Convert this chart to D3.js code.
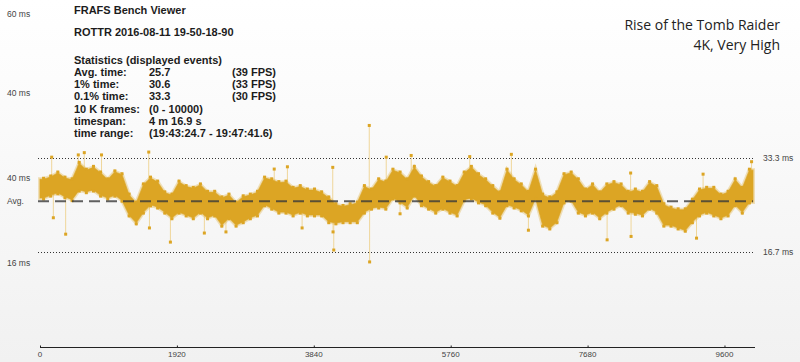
<!DOCTYPE html>
<html>
<head>
<meta charset="utf-8">
<script src="https://cdn.jsdelivr.net/npm/d3@7/dist/d3.min.js"></script>
<style>
	html, body { margin: 0; padding: 0; }
	svg { display: block; }
</style>
</head>
<body>
<svg id="chart"></svg>
<script>
const WIDTH = 800;
const HEIGHT = 362;
const GOLD = '#dca524';

// frame-time band per 100 frames: [low ms, high ms]
const binLow = [
	26.3, 26.8, 27.2, 26.5, 26.0, 27.7, 27.4, 27.7, 26.8, 26.3,
	26.8, 25.9, 23.3, 21.9, 23.8, 25.1, 24.7, 23.8, 22.8, 23.8,
	23.3, 22.8, 23.8, 22.8, 23.3, 21.5, 22.8, 21.5, 22.1, 22.8,
	23.3, 25.1, 24.5, 23.8, 23.8, 23.3, 23.8, 23.3, 23.3, 23.3,
	22.1, 21.9, 22.1, 22.1, 22.1, 23.8, 24.5, 24.7, 24.5, 26.3,
	25.6, 24.7, 26.8, 25.1, 24.5, 23.8, 24.5, 23.8, 23.3, 26.0,
	26.3, 25.6, 25.1, 23.8, 22.9, 25.1, 24.7, 24.2, 23.3, 26.3,
	21.5, 21.0, 22.1, 25.6, 25.9, 23.8, 23.3, 23.8, 22.8, 23.8,
	24.5, 25.1, 23.8, 23.6, 23.3, 24.5, 23.8, 21.5, 21.5, 21.0,
	20.6, 22.1, 23.3, 23.8, 23.3, 22.8, 23.3, 25.1, 23.8, 25.6
];
const binHigh = [
	29.6, 30.0, 30.7, 29.8, 29.5, 32.4, 31.2, 31.7, 30.7, 29.5,
	30.9, 30.4, 26.8, 25.4, 28.6, 29.8, 29.1, 27.2, 26.8, 29.1,
	28.3, 28.0, 28.6, 27.3, 27.3, 26.3, 26.8, 25.4, 26.5, 26.8,
	27.3, 29.8, 29.5, 29.0, 29.1, 28.0, 28.3, 27.7, 27.7, 27.2,
	26.3, 25.1, 24.8, 25.1, 25.4, 28.3, 27.7, 29.5, 29.1, 31.2,
	30.7, 29.5, 31.7, 30.0, 29.0, 28.3, 29.8, 29.1, 28.3, 30.7,
	31.7, 30.4, 29.5, 28.3, 27.2, 31.2, 29.5, 28.6, 27.3, 31.2,
	26.8, 26.3, 27.2, 30.4, 30.7, 29.5, 27.7, 28.6, 27.2, 28.6,
	29.0, 28.6, 27.3, 27.7, 27.3, 29.0, 28.3, 25.1, 24.5, 24.2,
	24.2, 25.9, 27.7, 28.0, 28.0, 26.8, 27.3, 29.5, 28.0, 31.2
];
const BIN_FRAMES = 100;

// single-frame outliers: frame index, ms
const spikeFrames = [164, 187, 360, 537, 621, 863, 1525, 1535, 1829, 2305, 2608, 3285, 3470, 3676,
	4106, 4110, 4120, 4618, 4623, 4856, 5050, 5206, 6027, 6611, 6850, 7954, 8284, 8290, 9208, 9300, 9980];
const spikeMs = [33.5, 22.8, 19.9, 33.9, 34.3, 33.9, 34.4, 21.0, 18.5, 20.1, 20.3, 31.4, 31.8, 21.0,
	31.7, 20.3, 17.1, 39.1, 15.0, 33.5, 23.5, 33.8, 33.6, 34.0, 20.6, 18.9, 30.7, 19.5, 19.2, 30.5, 32.7];

const avgTime = 25.7;
const refLines = [33.3, 16.7];
const xTicks = [0, 1920, 3840, 5760, 7680, 9600];
const staleUpper = ['60 ms', '40 ms'];
const staleLower = ['40 ms', '16 ms'];

const statRows = [
	['Avg. time:', '25.7', '(39 FPS)'],
	['1% time:', '30.6', '(33 FPS)'],
	['0.1% time:', '33.3', '(30 FPS)'],
	['10 K frames:', '(0 - 10000)', ''],
	['timespan:', '4 m 16.9 s', ''],
	['time range:', '(19:43:24.7 - 19:47:41.6)', '']
];
const titleLines = ['Rise of the Tomb Raider', '4K, Very High'];

const svg = d3.select('#chart').attr('width', WIDTH).attr('height', HEIGHT);

const defs = svg.append('defs');
const bg = defs.append('linearGradient').attr('id', 'bg').attr('x1', 0).attr('y1', 0).attr('x2', 0).attr('y2', 1);
bg.append('stop').attr('offset', '0%').attr('stop-color', '#ffffff');
bg.append('stop').attr('offset', '100%').attr('stop-color', '#f1f1f1');
svg.append('rect').attr('width', WIDTH).attr('height', HEIGHT).attr('fill', 'url(#bg)');

const x = d3.scaleLinear().domain([0, 10000]).range([40, 753]);
const y = d3.scaleLinear().domain([16.7, 33.3]).range([252.3, 158.3]);

const bins = binLow.map((lo, i) => ({ frame: (i + 0.5) * BIN_FRAMES, lo, hi: binHigh[i] }));
const spikes = spikeFrames.map((f, i) => ({ frame: f, ms: spikeMs[i], bin: bins[Math.min(99, Math.floor(f / BIN_FRAMES))] }));

// reference lines
svg.append('g')
	.selectAll('line')
	.data(refLines)
	.enter()
	.append('line')
	.attr('x1', x(0) - 2)
	.attr('x2', x(10000))
	.attr('y1', (d) => Math.round(y(d)) + 0.5)
	.attr('y2', (d) => Math.round(y(d)) + 0.5)
	.attr('stroke', '#333')
	.attr('stroke-width', 1)
	.attr('stroke-dasharray', '1,2');

// spikes: thin connector + marker
const spikeG = svg.append('g');
spikeG.selectAll('line')
	.data(spikes)
	.enter()
	.append('line')
	.attr('x1', (d) => x(d.frame))
	.attr('x2', (d) => x(d.frame))
	.attr('y1', (d) => y((d.bin.lo + d.bin.hi) / 2))
	.attr('y2', (d) => y(d.ms))
	.attr('stroke', '#efd69a')
	.attr('stroke-width', 1);

// dense band
const band = d3.area()
	.x((d) => x(d.frame))
	.y0((d) => y(d.lo))
	.y1((d) => y(d.hi))
	.curve(d3.curveLinear);

const bandData = [{ frame: 0, lo: bins[0].lo, hi: bins[0].hi }, ...bins, { frame: 10000, lo: bins[99].lo, hi: bins[99].hi }];
// soft halo for the scattered edge points
svg.append('path')
	.datum(bandData)
	.attr('d', band)
	.attr('fill', 'none')
	.attr('stroke', GOLD)
	.attr('stroke-opacity', 0.3)
	.attr('stroke-width', 4);
svg.append('path')
	.datum(bandData)
	.attr('d', band)
	.attr('fill', GOLD)
	.attr('stroke', GOLD)
	.attr('stroke-opacity', 0.7)
	.attr('stroke-width', 1.2);

// scatter texture on band edges
const edgeG = svg.append('g').attr('fill', GOLD);
edgeG.selectAll('rect.hi')
	.data(bins)
	.enter()
	.append('rect')
	.attr('x', (d) => x(d.frame) - 1.5)
	.attr('y', (d) => y(d.hi) - 2.5)
	.attr('width', 3)
	.attr('height', 3);
edgeG.selectAll('rect.lo')
	.data(bins)
	.enter()
	.append('rect')
	.attr('x', (d) => x(d.frame) - 1.5)
	.attr('y', (d) => y(d.lo) - 0.5)
	.attr('width', 3)
	.attr('height', 3);

spikeG.selectAll('rect')
	.data(spikes)
	.enter()
	.append('rect')
	.attr('x', (d) => x(d.frame) - 1.5)
	.attr('y', (d) => y(d.ms) - 1.5)
	.attr('width', 3)
	.attr('height', 3)
	.attr('fill', GOLD);

// average
svg.append('line')
	.attr('x1', x(0) - 2)
	.attr('x2', x(10000))
	.attr('y1', y(avgTime))
	.attr('y2', y(avgTime))
	.attr('stroke', '#3a3a3a')
	.attr('stroke-opacity', 0.8)
	.attr('stroke-width', 2)
	.attr('stroke-dasharray', '11,6');

// x axis
const xAxis = svg.append('g')
	.attr('transform', 'translate(0,347.5)');
xAxis.append('line')
	.attr('x1', x(0))
	.attr('x2', 755)
	.attr('stroke', '#222');
xAxis.selectAll('line.tick')
	.data(xTicks)
	.enter()
	.append('line')
	.attr('x1', (d) => x(d) + 0.5)
	.attr('x2', (d) => x(d) + 0.5)
	.attr('y1', -2)
	.attr('y2', 0)
	.attr('stroke', '#222');
xAxis.selectAll('text')
	.data(xTicks)
	.enter()
	.append('text')
	.attr('x', (d) => x(d))
	.attr('y', 9)
	.attr('text-anchor', 'middle')
	.attr('font-family', 'Liberation Sans, Arial, sans-serif')
	.attr('font-size', '8px')
	.attr('fill', '#444')
	.text((d) => d);

// side labels
const labelFont = 'Liberation Sans, Arial, sans-serif';
const upperScale = d3.scaleLinear().domain([60, 40]).range([14, 93]);
const lowerScale = d3.scaleLinear().domain([40, 16]).range([178, 263]);
const sideLabels = [
	...staleUpper.map((t) => ({ text: t, y: upperScale(parseFloat(t)) })),
	...staleLower.map((t) => ({ text: t, y: lowerScale(parseFloat(t)) })),
	{ text: 'Avg.', y: y(avgTime) }
];
svg.append('g')
	.selectAll('text')
	.data(sideLabels)
	.enter()
	.append('text')
	.attr('x', 7)
	.attr('y', (d) => d.y)
	.attr('dy', '0.35em')
	.attr('font-family', labelFont)
	.attr('font-size', '8.5px')
	.attr('fill', '#444')
	.text((d) => d.text);

svg.append('g')
	.selectAll('text')
	.data(refLines)
	.enter()
	.append('text')
	.attr('x', 763)
	.attr('y', (d) => y(d))
	.attr('dy', '0.35em')
	.attr('font-family', labelFont)
	.attr('font-size', '8.5px')
	.attr('fill', '#444')
	.text((d) => d + ' ms');

// header text
const header = svg.append('g')
	.attr('font-family', 'Liberation Sans, Arial, sans-serif')
	.attr('font-weight', 'bold')
	.attr('font-size', '11px')
	.attr('fill', '#1c1c1c');
header.append('text').attr('x', 74).attr('y', 14).text('FRAFS Bench Viewer');
header.append('text').attr('x', 74).attr('y', 36).text('ROTTR 2016-08-11 19-50-18-90');
header.append('text').attr('x', 74).attr('y', 64).text('Statistics (displayed events)');
const rows = header.selectAll('g.row')
	.data(statRows)
	.enter()
	.append('g')
	.attr('transform', (d, i) => `translate(0,${76 + i * 12.2})`);
[74, 149, 232].forEach((cx, c) => {
	rows.append('text').attr('x', cx).text((d) => d[c]);
});

svg.append('g')
	.selectAll('text')
	.data(titleLines)
	.enter()
	.append('text')
	.attr('x', 780)
	.attr('y', (d, i) => 30 + i * 20)
	.attr('text-anchor', 'end')
	.attr('font-family', 'Open Sans, sans-serif')
	.attr('font-size', '14px')
	.attr('fill', '#222')
	.text((d) => d);
</script>
</body>
</html>
